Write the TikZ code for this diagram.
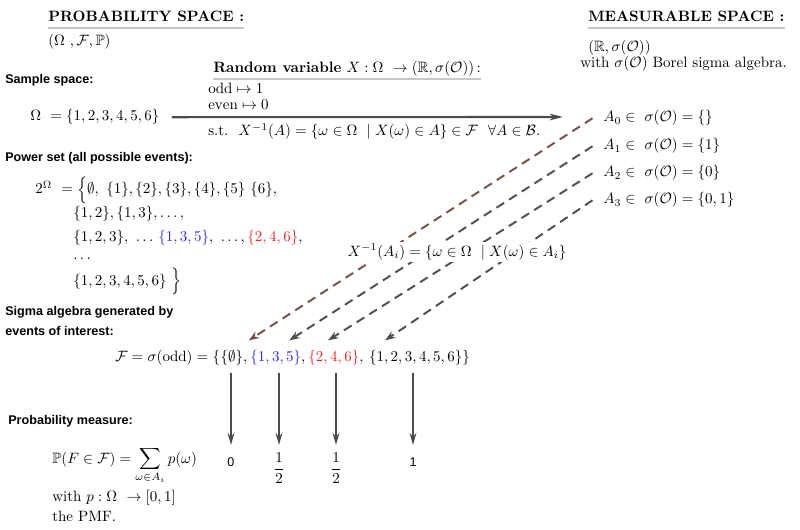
\documentclass[tikz,border=0pt]{standalone}
\usepackage{amsmath,amssymb}
\usepackage{fontspec}
\newfontfamily\labfont{Liberation Sans}
\usetikzlibrary{arrows.meta,positioning}

\definecolor{rulegray}{RGB}{200,200,200}
\definecolor{arrowgray}{RGB}{75,75,75}
\definecolor{dashbrown}{RGB}{120,80,80}
\definecolor{dashgray}{RGB}{80,80,80}
\definecolor{setblue}{RGB}{40,40,215}
\definecolor{setred}{RGB}{225,40,40}

\begin{document}
\begin{tikzpicture}[x=0.6667pt,y=-0.6667pt,
    txt/.style={inner sep=0pt,anchor=base west},
    lab/.style={inner sep=0pt,anchor=base west,font=\labfont\bfseries\fontsize{8.4}{10}\selectfont},
    hrule/.style={line width=1.6pt,color=rulegray},
    rvarrow/.style={-{Stealth[length=9pt,width=4.5pt]},line width=1.4pt,color=arrowgray},
    preimg/.style={-{Stealth[length=7pt,width=5pt]},line width=1.3pt,dash pattern=on 6pt off 4pt},
    measure/.style={-{Stealth[length=8pt,width=4.5pt]},line width=1.4pt,color=arrowgray}]
    \useasboundingbox (0,0) rectangle (800,530);

    % headings
    \node[txt] (probhead) at (48,22) {\textbf{PROBABILITY SPACE :}};
    \node[txt] (probtriple) at (48,46) {$(\Omega\ ,\mathcal{F},\mathbb{P})$};
    \node[txt] (meashead) at (588,22) {\textbf{MEASURABLE SPACE :}};
    \node[txt] (measpair) at (588,52) {$(\mathbb{R},\sigma(\mathcal{O}))$};
    \node[txt] (borel) at (580,68) {with $\sigma(\mathcal{O})$ Borel sigma algebra.};
    \draw[hrule] ([yshift=-3.5pt]probhead.south west) -- ([yshift=-3.5pt]probhead.south east);
    \draw[hrule] ([yshift=-3.5pt]meashead.south west) -- ([yshift=-3.5pt]meashead.south east);

    % random variable
    \node[txt] (rvhead) at (213,73) {\textbf{Random variable} $X:\Omega\ \to(\mathbb{R},\sigma(\mathcal{O}))$\,:};
    \draw[hrule] ([yshift=-1.5pt]rvhead.south west) -- ([yshift=-1.5pt]rvhead.south east);
    \node[txt] (odd) at (208,94) {$\mathrm{odd}\mapsto 1$};
    \node[txt] (even) at (208,110) {$\mathrm{even}\mapsto 0$};
    \node[txt] (st) at (208,136) {s.t.\ \ $X^{-1}(A)=\{\omega\in\Omega\ \mid X(\omega)\in A\}\in\mathcal{F}\ \ \forall A\in\mathcal{B}.$};

    % sample space and power set
    \node[lab] (samplelab) at (5,84) {Sample space:};
    \node[txt] (omega) at (30,121) {$\Omega\ =\{1,2,3,4,5,6\}$};
    \coordinate (rvend) at (563,117);
    \draw[rvarrow, shorten <=8pt] (omega) -- (rvend);

    \node[lab] (powerlab) at (5,162) {Power set (all possible events):};
    \node[txt] (ps1) at (35,194) {$2^{\Omega}\ =\Big\{\emptyset,\ \{1\},\{2\},\{3\},\{4\},\{5\}\ \{6\},$};
    \node[txt] (ps2) at (73,218) {$\{1,2\},\{1,3\},\dots,$};
    \node[txt] (ps3) at (73,242) {$\{1,2,3\},\ \dots\,{\color{setblue}\{1,3,5\}},\ \dots,{\color{setred}\{2,4,6\}},$};
    \node[txt] (ps4) at (73,260) {$\dots$};
    \node[txt] (ps5) at (73,285) {$\{1,2,3,4,5,6\}\ \Big\}$};

    % events of the measurable space
    \node[txt] (A0) at (603,122) {$A_0\in\ \sigma(\mathcal{O})=\{\}$};
    \node[txt] (A1) at (603,150) {$A_1\in\ \sigma(\mathcal{O})=\{1\}$};
    \node[txt] (A2) at (603,177) {$A_2\in\ \sigma(\mathcal{O})=\{0\}$};
    \node[txt] (A3) at (603,204) {$A_3\in\ \sigma(\mathcal{O})=\{0,1\}$};

    % sigma algebra
    \node[lab, align=left, font=\labfont\bfseries\fontsize{8.4}{13.3}\selectfont] (sigmalab) at (5,335) {Sigma algebra generated by\\events of interest:};
    \node[txt] (Flhs) at (115,361) {$\mathcal{F}=\sigma(\mathrm{odd})=\{$};
    \node[txt, base right=0pt of Flhs] (F0) {$\{\emptyset\},\,$};
    \node[txt, base right=0pt of F0] (F1) {${\color{setblue}\{1,3,5\}},\,$};
    \node[txt, base right=0pt of F1] (F2) {${\color{setred}\{2,4,6\}},\ $};
    \node[txt, base right=0pt of F2] (F3) {$\{1,2,3,4,5,6\}\}$};

    % preimages
    \draw[preimg, color=dashbrown] ([xshift=-7pt]A0.west) -- ([xshift=9pt,yshift=6pt]F0.north);
    \draw[preimg, color=dashgray] ([xshift=-7pt]A1.west) -- ([xshift=6.7pt,yshift=6pt]F1.north);
    \draw[preimg, color=dashgray] ([xshift=-7pt]A2.west) -- ([xshift=-7pt,yshift=6pt]F2.north);
    \draw[preimg, color=dashgray] ([xshift=-7pt]A3.west) -- ([xshift=-23pt,yshift=6pt]F3.north);
    \node[fill=white, inner sep=1.5pt] (preimglab) at (457,252) {$X^{-1}(A_i)=\{\omega\in\Omega\ \mid X(\omega)\in A_i\}$};

    % probability measure
    \node[lab] (problab) at (8,424) {Probability measure:};
    \node[txt] (pformula) at (52,463) {$\mathbb{P}(F\in\mathcal{F})=\displaystyle\sum_{\omega\in A_i}p(\omega)$};
    \node[txt] (withp) at (52,501) {with $p:\Omega\ \to[0,1]$};
    \node[txt] (pmf) at (52,521) {the PMF.};

    \node[inner sep=0pt, font=\labfont\fontsize{8.4}{10}\selectfont] (v0) at (231,462) {0};
    \node[inner sep=0pt] (v1) at (279,468) {$\dfrac{1}{2}$};
    \node[inner sep=0pt] (v2) at (336,468) {$\dfrac{1}{2}$};
    \node[inner sep=0pt, font=\labfont\fontsize{8.4}{10}\selectfont] (v3) at (413,462) {1};
    \coordinate (vend) at (0,445);
    \draw[measure, shorten <=5pt] (F0.south -| v0) -- (vend -| v0);
    \draw[measure, shorten <=5pt] (F1.south -| v1) -- (vend -| v1);
    \draw[measure, shorten <=5pt] (F2.south -| v2) -- (vend -| v2);
    \draw[measure, shorten <=5pt] (F3.south -| v3) -- (vend -| v3);
\end{tikzpicture}
\end{document}
